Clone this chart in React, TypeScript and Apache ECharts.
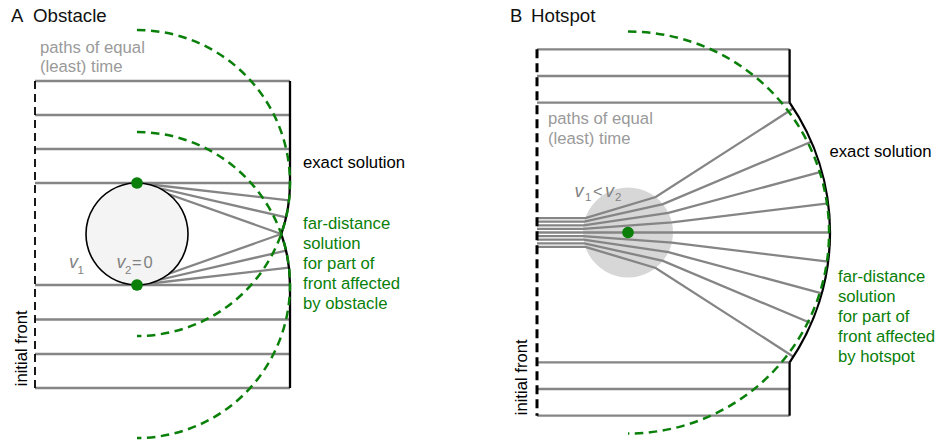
import React, { useEffect, useRef } from 'react';
import * as echarts from 'echarts';

// ---------------- Panel A: obstacle ----------------
const rowsA = [81, 115, 149, 183, 285, 319.5, 354, 388]; // straight paths (y)
const frontAX = 35; // initial front
const exactAX = 290; // straight part of the exact solution
const obstacleA = [137, 234, 51]; // cx, cy, r
const edgeDotsA = [
  [137, 183],
  [137, 285],
];
const fanDegA = [6.5, 13, 19.47]; // rays from each obstacle edge (deg)

// ---------------- Panel B: hotspot ----------------
const rowsB = [49.3, 76, 102.7, 362.3, 389, 415.7];
const frontBX = 537;
const exactBX = 789.6;
const hotspotB = [628, 232.5, 45]; // cx, cy, r
const farRadiusB = 201;
const exactArcB = [601, 232.5, 229]; // cx, cy, r of exact front arc
const rayEntryY = [218.1, 221.7, 225.3, 228.9, 232.5, 236.1, 239.7, 243.3, 246.9];
const rayExitDeg = [-52, -39, -26, -13, 0, 13, 26, 39, 52];
const rayEndY = [108.3, 141.7, 171.7, 203.3, 232.5, 261.7, 293.3, 323.3, 356.7];

const FONT = '"Liberation Sans", Arial, Helvetica, sans-serif';
const GRAY_LINE = '#858585';
const GREEN = '#0a800a';
const GRAY_TEXT = '#9a9a9a';
const V_TEXT = '#828282';

const rad = (d: number) => (d * Math.PI) / 180;

function buildGeometry() {
  const gray: number[][][] = [];
  rowsA.forEach((y) => gray.push([[frontAX, y], [exactAX, y]]));
  const reachA = exactAX - edgeDotsA[0][0];
  edgeDotsA.forEach(([dx, dy], k) => {
    const sgn = k === 0 ? 1 : -1;
    fanDegA.forEach((d) => {
      const a = rad(sgn * d);
      gray.push([[dx, dy], [dx + reachA * Math.cos(a), dy + reachA * Math.sin(a)]]);
    });
  });
  rowsB.forEach((y) => gray.push([[frontBX, y], [exactBX, y]]));
  const [hx, hy, hr] = hotspotB;
  const [ex, ey, er] = exactArcB;
  rayEntryY.forEach((y, i) => {
    const inX = hx - Math.sqrt(hr * hr - (y - hy) * (y - hy));
    const a = rad(rayExitDeg[i]);
    const out = [hx + hr * Math.cos(a), hy + hr * Math.sin(a)];
    const endY = rayEndY[i];
    const endX = ex + Math.sqrt(er * er - (endY - ey) * (endY - ey));
    gray.push([[frontBX, y], [inX, y], out, [endX, endY]]);
  });

  const cuspDeg = (Math.asin((obstacleA[1] - edgeDotsA[0][1]) / reachA) * 180) / Math.PI;
  const blackArcs = [
    [edgeDotsA[0][0], edgeDotsA[0][1], reachA, 0, cuspDeg],
    [edgeDotsA[1][0], edgeDotsA[1][1], reachA, -cuspDeg, 0],
  ];
  const bDeg = (Math.asin((ey - rowsB[2]) / er) * 180) / Math.PI;
  blackArcs.push([ex, ey, er, -bDeg, bDeg]);

  const greenArcs = [
    [edgeDotsA[0][0], edgeDotsA[0][1], reachA, -90, 90],
    [edgeDotsA[1][0], edgeDotsA[1][1], reachA, -90, 90],
    [hx, hy, farRadiusB, -90, 90],
  ];

  const black = [
    { coords: [[exactAX, rowsA[0]], [exactAX, rowsA[3]]], lineStyle: { color: '#000', width: 2.3, opacity: 1 } },
    { coords: [[exactAX, rowsA[4]], [exactAX, rowsA[7]]], lineStyle: { color: '#000', width: 2.3, opacity: 1 } },
    { coords: [[exactBX, rowsB[0]], [exactBX, rowsB[2]]], lineStyle: { color: '#000', width: 2.3, opacity: 1 } },
    { coords: [[exactBX, rowsB[3]], [exactBX, rowsB[5]]], lineStyle: { color: '#000', width: 2.3, opacity: 1 } },
    { coords: [[frontAX, rowsA[0]], [frontAX, rowsA[7]]], lineStyle: { color: '#000', width: 1.8, type: [8, 5], opacity: 1 } },
    { coords: [[frontBX, rowsB[0]], [frontBX, rowsB[5]]], lineStyle: { color: '#000', width: 3, type: [9, 5], opacity: 1 } },
  ];
  return { gray, blackArcs, greenArcs, black };
}

function arcSeries(data: number[][], style: any) {
  return {
    type: 'custom',
    coordinateSystem: 'cartesian2d',
    silent: true,
    data,
    renderItem: (_p: any, api: any) => {
      const c = api.coord([api.value(0), api.value(1)]);
      const r = api.size([api.value(2), 0])[0];
      return {
        type: 'arc',
        shape: {
          cx: c[0],
          cy: c[1],
          r,
          startAngle: rad(api.value(3)),
          endAngle: rad(api.value(4)),
          clockwise: true,
        },
        style: { fill: 'none', ...style },
      };
    },
  };
}

function circleSeries(data: number[][], style: any) {
  return {
    type: 'custom',
    coordinateSystem: 'cartesian2d',
    silent: true,
    data,
    renderItem: (_p: any, api: any) => {
      const c = api.coord([api.value(0), api.value(1)]);
      const r = api.size([api.value(2), 0])[0];
      return { type: 'circle', shape: { cx: c[0], cy: c[1], r }, style: { ...style } };
    },
  };
}

function txt(text: string, x: number, y: number, size: number, color: string, opts: any = {}) {
  const align = opts.align || 'left';
  return {
    type: 'text',
    x,
    y,
    rotation: opts.rotation || 0,
    silent: true,
    z: 100,
    style: {
      text,
      fill: color,
      font: `${opts.italic ? 'italic ' : ''}${size}px ${FONT}`,
      align,
      textAlign: align,
      verticalAlign: 'middle',
      textVerticalAlign: 'middle',
    },
  };
}

export default function App() {
  const ref = useRef<HTMLDivElement>(null);
  useEffect(() => {
    if (!ref.current) return;
    const chart = echarts.init(ref.current, undefined, { renderer: 'svg' });
    const g = buildGeometry();
    const L = 16.7;
    const graphics = [
      txt('A', 11, 15.3, 18.5, '#111'),
      txt('Obstacle', 33, 15.3, 18.7, '#111'),
      txt('B', 510, 15.3, 18.5, '#111'),
      txt('Hotspot', 531, 15.3, 18.7, '#111'),
      txt('paths of equal', 40, 47.3, L, GRAY_TEXT),
      txt('(least) time', 40, 66.5, L, GRAY_TEXT),
      txt('paths of equal', 548, 118.8, L, GRAY_TEXT),
      txt('(least) time', 548, 138.3, L, GRAY_TEXT),
      txt('exact solution', 303, 162.6, L, '#000'),
      txt('exact solution', 829.5, 151.6, L, '#000'),
      ...['far-distance', 'solution', 'for part of', 'front affected', 'by obstacle'].map((s, i) =>
        txt(s, 303, 223.5 + 20 * i, L, GREEN)
      ),
      ...['far-distance', 'solution', 'for part of', 'front affected', 'by hotspot'].map((s, i) =>
        txt(s, 838, 276 + 20 * i, L, GREEN)
      ),
      txt('initial front', 21, 348.3, L, '#000', { align: 'center', rotation: Math.PI / 2 }),
      txt('initial front', 521, 377.3, L, '#000', { align: 'center', rotation: Math.PI / 2 }),
      // v1, v2 = 0
      txt('v', 69, 262.2, 18, V_TEXT, { italic: true }),
      txt('1', 77.5, 270.3, 11.5, V_TEXT),
      txt('v', 116.5, 262.2, 18, V_TEXT, { italic: true }),
      txt('2', 125, 270.3, 11.5, V_TEXT),
      txt('=', 132, 262.3, 16.5, V_TEXT),
      txt('0', 143.5, 262.3, 16.5, V_TEXT),
      // v1 < v2
      txt('v', 574.5, 190.5, 18, V_TEXT, { italic: true }),
      txt('1', 585, 196.7, 11.5, V_TEXT),
      txt('<', 593, 191, 16.5, V_TEXT),
      txt('v', 605, 190.5, 18, V_TEXT, { italic: true }),
      txt('2', 615, 196.7, 11.5, V_TEXT),
    ];

    chart.setOption({
      animation: false,
      backgroundColor: '#fff',
      grid: { left: 0, right: 0, top: 0, bottom: 0 },
      xAxis: { type: 'value', min: 0, max: 939, show: false },
      yAxis: { type: 'value', min: 0, max: 444, inverse: true, show: false },
      graphic: graphics,
      series: [
        circleSeries([hotspotB], { fill: '#d7d7d7' }),
        {
          type: 'lines',
          coordinateSystem: 'cartesian2d',
          polyline: true,
          silent: true,
          lineStyle: { color: GRAY_LINE, width: 2.3, opacity: 1 },
          data: g.gray.map((c) => ({ coords: c })),
        },
        circleSeries([obstacleA], { fill: '#f4f4f4', stroke: '#000', lineWidth: 1.6 }),
        {
          type: 'lines',
          coordinateSystem: 'cartesian2d',
          polyline: true,
          silent: true,
          data: g.black,
        },
        arcSeries(g.blackArcs, { stroke: '#000', lineWidth: 2.3 }),
        arcSeries(g.greenArcs, { stroke: GREEN, lineWidth: 2.5, lineDash: [8.5, 5.5] }),
        circleSeries(
          [...edgeDotsA.map(([x, y]) => [x, y, 5.8]), [hotspotB[0], hotspotB[1], 5.8]],
          { fill: GREEN }
        ),
      ],
    });
    return () => chart.dispose();
  }, []);
  return (
    <div
      ref={ref}
      style={{ position: 'absolute', left: 0, top: 0, width: 939, height: 444, background: '#fff' }}
    />
  );
}
